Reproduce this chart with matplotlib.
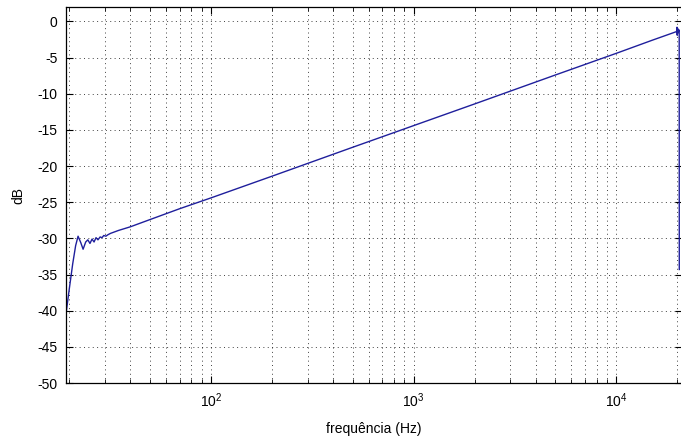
import matplotlib
matplotlib.use("Agg")
import matplotlib.pyplot as plt  # noqa: E402
from matplotlib.ticker import LogLocator, NullLocator  # noqa: E402

plt.rcParams["font.family"] = ["Liberation Sans", "DejaVu Sans"]
plt.rcParams["font.size"] = 10
plt.rcParams["mathtext.default"] = "regular"
plt.rcParams["axes.unicode_minus"] = False

freq_hz = [19.3, 20.0, 20.8, 21.5, 22.1, 22.8, 23.4, 24.1, 24.7, 25.3,
           25.9, 26.5, 27.1, 27.7, 28.4, 29.0, 29.6, 30.3, 31.0, 32.0,
           35.0, 40.0, 50.0, 70.0, 100.0, 200.0, 500.0, 1000.0, 2000.0,
           5000.0, 10000.0, 15000.0, 19800.0, 19900.0, 19950.0, 20000.0,
           20100.0, 20200.0, 20300.0, 20400.0, 20420.0]
gain_db = [-40.3, -37.0, -33.5, -31.0, -29.7, -30.6, -31.5, -30.5, -30.2, -30.7,
           -30.1, -30.5, -29.9, -30.2, -29.8, -29.9, -29.6, -29.7, -29.5, -29.3,
           -28.9, -28.4, -27.4, -25.9, -24.4, -21.4, -17.4, -14.4, -11.4,
           -7.4, -4.4, -2.6, -1.4, -0.8, -1.9, -0.9,
           -1.6, -1.1, -1.3, -1.2, -34.3]

y_ticks = list(range(-50, 1, 5))

fig = plt.figure(figsize=(6.81, 4.36), dpi=100)
ax = fig.add_axes([66 / 681, 53 / 436, 616 / 681, 376 / 436])

ax.semilogx(freq_hz, gain_db, color="#1f1f9c", linewidth=1.0)

ax.set_xlim(19.27, 21060)
ax.set_ylim(-50, 2)
ax.set_yticks(y_ticks)
ax.xaxis.set_major_locator(LogLocator(base=10, numticks=10))
ax.xaxis.set_minor_locator(LogLocator(base=10, subs=range(2, 10), numticks=20))
ax.yaxis.set_minor_locator(NullLocator())

ax.tick_params(which="both", direction="in", top=True, right=True, colors="black")
ax.tick_params(which="major", length=5, width=0.8, pad=6)
ax.tick_params(which="minor", length=3, width=0.6)

grid_style = dict(color="black", linestyle=(0, (1, 3.5)), linewidth=0.7, alpha=0.75)
ax.grid(True, which="major", **grid_style)
ax.grid(True, which="minor", axis="x", **grid_style)
ax.set_axisbelow(True)

for spine in ax.spines.values():
    spine.set_linewidth(0.9)

ax.set_xlabel("frequência (Hz)", labelpad=9)
ax.set_ylabel("dB", labelpad=9)

fig.savefig("out.png", dpi=100, facecolor="white")
